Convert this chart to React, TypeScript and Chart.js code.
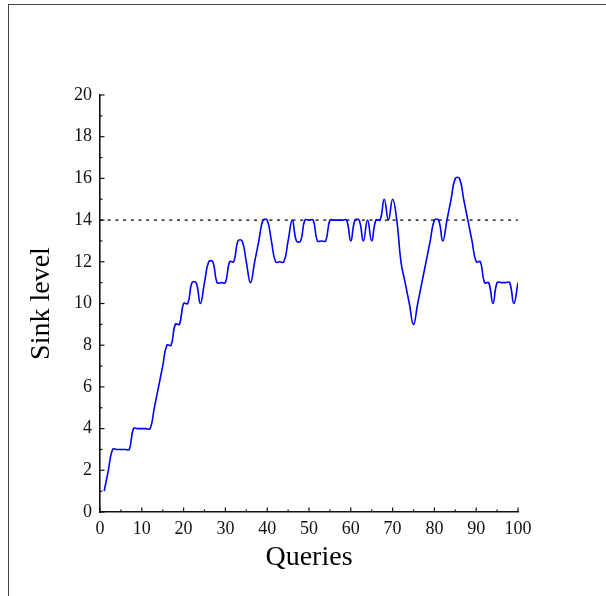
import React, { useEffect, useRef } from "react";
import { Chart, registerables } from "chart.js";

Chart.register(...registerables);

const queries = [
  1, 2, 3, 4, 5, 6, 7, 8, 9, 10, 11, 12, 13, 14, 15, 16, 17, 18, 19, 20,
  21, 22, 23, 24, 25, 26, 27, 28, 29, 30, 31, 32, 33, 34, 35, 36, 37, 38, 39, 40,
  41, 42, 43, 44, 45, 46, 47, 48, 49, 50, 51, 52, 53, 54, 55, 56, 57, 58, 59, 60,
  61, 62, 63, 64, 65, 66, 67, 68, 69, 70, 71, 72, 73, 74, 75, 76, 77, 78, 79, 80,
  81, 82, 83, 84, 85, 86, 87, 88, 89, 90, 91, 92, 93, 94, 95, 96, 97, 98, 99, 100,
];

const sinkLevel = [
  1, 2, 3, 3, 3, 3, 3, 4, 4, 4, 4, 4, 5, 6, 7, 8, 8, 9, 9, 10,
  10, 11, 11, 10, 11, 12, 12, 11, 11, 11, 12, 12, 13, 13, 12, 11, 12, 13, 14, 14,
  13, 12, 12, 12, 13, 14, 13, 13, 14, 14, 14, 13, 13, 13, 14, 14, 14, 14, 14, 13,
  14, 14, 13, 14, 13, 14, 14, 15, 14, 15, 14, 12, 11, 10, 9, 10, 11, 12, 13, 14,
  14, 13, 14, 15, 16, 16, 15, 14, 13, 12, 12, 11, 11, 10, 11, 11, 11, 11, 10, 11,
];

const thresholdX = [0, 100];
const thresholdY = [14, 14];

const xTickValues = [0, 10, 20, 30, 40, 50, 60, 70, 80, 90, 100];
const yTickValues = [0, 2, 4, 6, 8, 10, 12, 14, 16, 18, 20];

const SERIF = "'Liberation Serif', 'Times New Roman', serif";

const inwardTicks = {
  id: "inwardTicks",
  afterDraw(chart: any) {
    const { ctx } = chart;
    const xs = chart.scales.x;
    const ys = chart.scales.y;
    const area = chart.chartArea;
    ctx.save();
    ctx.strokeStyle = "#111";
    ctx.lineWidth = 1.2;
    for (let v = 0; v <= 100; v += 5) {
      const px = xs.getPixelForValue(v);
      const len = v % 10 === 0 ? 4.5 : 2.5;
      ctx.beginPath();
      ctx.moveTo(px, area.bottom);
      ctx.lineTo(px, area.bottom - len);
      ctx.stroke();
    }
    for (let v = 0; v <= 20; v += 1) {
      const py = ys.getPixelForValue(v);
      const len = v % 2 === 0 ? 4.5 : 2.5;
      ctx.beginPath();
      ctx.moveTo(area.left, py);
      ctx.lineTo(area.left + len, py);
      ctx.stroke();
    }
    ctx.restore();
  },
};

export default function App() {
  const ref = useRef<HTMLCanvasElement | null>(null);

  useEffect(() => {
    if (!ref.current) return;
    const chart = new Chart(ref.current, {
      type: "line",
      data: {
        datasets: [
          {
            label: "Sink level",
            data: queries.map((q, i) => ({ x: q, y: sinkLevel[i] })),
            borderColor: "#0000ff",
            borderWidth: 1.6,
            pointRadius: 0,
            tension: 0.45,
            fill: false,
          },
          {
            label: "Threshold",
            data: thresholdX.map((q, i) => ({ x: q, y: thresholdY[i] })),
            borderColor: "#000000",
            borderWidth: 1.4,
            borderDash: [3, 4.7],
            pointRadius: 0,
            tension: 0,
            fill: false,
          },
        ],
      },
      options: {
        animation: false,
        responsive: false,
        devicePixelRatio: 1,
        layout: { padding: { left: 0, right: 88, top: 95, bottom: 0 } },
        plugins: {
          legend: { display: false },
          tooltip: { enabled: false },
        },
        scales: {
          x: {
            type: "linear",
            min: 0,
            max: 100,
            afterBuildTicks: (s: any) => {
              s.ticks = xTickValues.map((v) => ({ value: v }));
            },
            afterFit: (s: any) => {
              s.height = 84;
            },
            grid: { display: true, drawOnChartArea: false, drawTicks: false },
            border: { display: true, color: "#111", width: 1.6 },
            ticks: {
              color: "#111",
              font: { family: SERIF, size: 18 },
              padding: 6,
              maxRotation: 0,
              autoSkip: false,
            },
            title: {
              display: true,
              text: "Queries",
              color: "#000",
              font: { family: SERIF, size: 28 },
              padding: { top: 0, bottom: 22 },
            },
          },
          y: {
            type: "linear",
            min: 0,
            max: 20,
            afterBuildTicks: (s: any) => {
              s.ticks = yTickValues.map((v) => ({ value: v }));
            },
            afterFit: (s: any) => {
              s.width = 100;
            },
            grid: { display: true, drawOnChartArea: false, drawTicks: false },
            border: { display: true, color: "#111", width: 1.6 },
            ticks: {
              color: "#111",
              font: { family: SERIF, size: 18 },
              padding: 8,
              autoSkip: false,
            },
            title: {
              display: true,
              text: "Sink level",
              color: "#000",
              font: { family: SERIF, size: 28 },
              padding: { top: 25, bottom: 0 },
            },
          },
        },
      },
      plugins: [inwardTicks],
    });
    return () => chart.destroy();
  }, []);

  return (
    <div
      style={{
        position: "absolute",
        left: 0,
        top: 0,
        width: 606,
        height: 596,
        overflow: "hidden",
        background: "#fff",
      }}
    >
      <canvas ref={ref} width={606} height={596} style={{ display: "block" }} />
      <div
        style={{
          position: "absolute",
          left: 8,
          top: 4,
          width: 700,
          height: 700,
          borderTop: "1.5px solid #444",
          borderLeft: "1.5px solid #444",
          pointerEvents: "none",
        }}
      />
    </div>
  );
}
